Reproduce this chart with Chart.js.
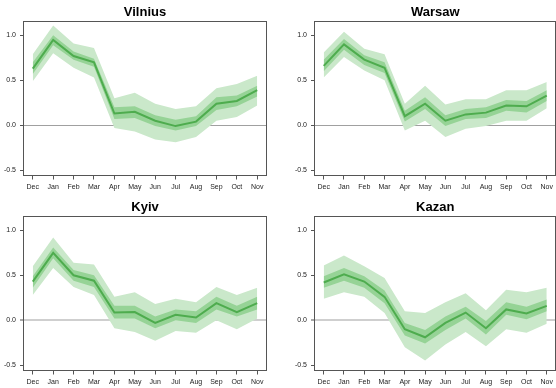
<!DOCTYPE html>
<html><head><meta charset="utf-8">
<script src="https://cdn.jsdelivr.net/npm/chart.js@4"></script>
<style>
html,body{margin:0;padding:0;background:#fff;width:556px;height:388px;overflow:hidden}
.p{position:absolute;width:278px;height:194px}
canvas{display:block}
</style></head><body>
<div class="p" style="left:0;top:0"><canvas id="c0" width="278" height="194"></canvas></div>
<div class="p" style="left:278px;top:0"><canvas id="c1" width="278" height="194"></canvas></div>
<div class="p" style="left:0;top:195px"><canvas id="c2" width="278" height="194"></canvas></div>
<div class="p" style="left:278px;top:195px"><canvas id="c3" width="278" height="194"></canvas></div>
<script>
const months = ['Dec','Jan','Feb','Mar','Apr','May','Jun','Jul','Aug','Sep','Oct','Nov'];
const yTicks = [-0.5, 0, 0.5, 1.0];

const vilniusMean    = [0.63,0.95,0.77,0.70,0.13,0.15,0.05,-0.01,0.04,0.24,0.27,0.39];
const vilniusInnerHi = [0.70,1.00,0.82,0.74,0.20,0.21,0.11,0.06,0.10,0.31,0.33,0.44];
const vilniusInnerLo = [0.57,0.89,0.73,0.65,0.07,0.08,-0.01,-0.06,-0.01,0.17,0.21,0.32];
const vilniusOuterHi = [0.79,1.11,0.91,0.86,0.30,0.36,0.24,0.18,0.21,0.41,0.46,0.55];
const vilniusOuterLo = [0.49,0.80,0.64,0.53,-0.03,-0.07,-0.16,-0.19,-0.13,0.05,0.09,0.22];

const warsawMean    = [0.66,0.90,0.73,0.64,0.10,0.24,0.05,0.12,0.14,0.22,0.21,0.33];
const warsawInnerHi = [0.73,0.96,0.78,0.70,0.16,0.31,0.11,0.18,0.20,0.28,0.27,0.39];
const warsawInnerLo = [0.60,0.84,0.67,0.58,0.04,0.18,-0.01,0.07,0.08,0.16,0.14,0.27];
const warsawOuterHi = [0.81,1.04,0.85,0.79,0.24,0.44,0.23,0.29,0.29,0.39,0.39,0.48];
const warsawOuterLo = [0.53,0.76,0.61,0.50,-0.06,0.05,-0.13,-0.04,-0.01,0.05,0.05,0.19];

const kyivMean    = [0.43,0.75,0.50,0.44,0.085,0.09,-0.03,0.06,0.03,0.19,0.09,0.19];
const kyivInnerHi = [0.49,0.81,0.56,0.50,0.16,0.16,0.04,0.12,0.10,0.26,0.16,0.26];
const kyivInnerLo = [0.36,0.69,0.44,0.37,0.02,0.02,-0.09,0.00,-0.03,0.12,0.04,0.12];
const kyivOuterHi = [0.60,0.92,0.64,0.62,0.26,0.31,0.18,0.24,0.20,0.37,0.28,0.36];
const kyivOuterLo = [0.28,0.58,0.37,0.28,-0.09,-0.13,-0.23,-0.12,-0.14,0.00,-0.10,0.02];

const kazanMean    = [0.42,0.51,0.43,0.26,-0.10,-0.19,-0.03,0.085,-0.09,0.12,0.075,0.16];
const kazanInnerHi = [0.49,0.58,0.49,0.33,-0.03,-0.11,0.04,0.15,-0.01,0.20,0.15,0.23];
const kazanInnerLo = [0.36,0.44,0.36,0.19,-0.17,-0.26,-0.11,0.02,-0.16,0.06,0.01,0.10];
const kazanOuterHi = [0.61,0.72,0.60,0.47,0.10,0.08,0.20,0.30,0.11,0.34,0.31,0.36];
const kazanOuterLo = [0.24,0.31,0.26,0.08,-0.30,-0.45,-0.27,-0.13,-0.29,-0.10,-0.14,-0.04];

const LINE = 'rgb(78,172,78)';
const INNER = 'rgb(150,211,150)';
const OUTER = 'rgb(202,232,202)';
const FONT = "'Liberation Sans', Arial, Helvetica, sans-serif";

const pts = arr => arr.map((v, i) => ({x: i, y: v}));

const boxPlugin = {
  id: 'box',
  afterDraw(chart) {
    const a = chart.chartArea, ctx = chart.ctx;
    ctx.save();
    ctx.strokeStyle = '#555';
    ctx.lineWidth = 1;
    const l = Math.round(a.left) - 0.5, t = Math.round(a.top) + 0.5;
    const r = Math.round(a.right) + 0.5, b = Math.round(a.bottom) - 0.5;
    ctx.strokeRect(l, t, r - l, b - t);
    ctx.restore();
  }
};

function makeChart(id, title, mean, iHi, iLo, oHi, oLo, leftW, rightPad, zeroColor, zeroW) {
  const H = 194;
  new Chart(document.getElementById(id), {
    type: 'line',
    data: {
      datasets: [
        {data: pts(mean), borderColor: LINE, borderWidth: 2, pointRadius: 0, fill: false, tension: 0},
        {data: pts(iHi), borderWidth: 0, borderColor: 'rgba(0,0,0,0)', pointRadius: 0, backgroundColor: INNER, fill: '+1'},
        {data: pts(iLo), borderWidth: 0, borderColor: 'rgba(0,0,0,0)', pointRadius: 0, fill: false},
        {data: pts(oHi), borderWidth: 0, borderColor: 'rgba(0,0,0,0)', pointRadius: 0, backgroundColor: OUTER, fill: '+1'},
        {data: pts(oLo), borderWidth: 0, borderColor: 'rgba(0,0,0,0)', pointRadius: 0, fill: false}
      ]
    },
    options: {
      responsive: false,
      animation: false,
      events: [],
      layout: {padding: {left: 0, right: rightPad, top: 0, bottom: 0}},
      plugins: {
        legend: {display: false},
        tooltip: {enabled: false},
        title: {
          display: true, text: title, fullSize: false,
          color: '#000',
          font: {family: FONT, size: 13, weight: 'bold', lineHeight: 1.2},
          padding: {top: 5, bottom: 0.4}
        }
      },
      scales: {
        x: {
          type: 'linear', min: -0.43, max: 11.43,
          afterBuildTicks: s => { s.ticks = months.map((m, i) => ({value: i})); },
          afterFit: s => { s.height = H - 175.5; },
          ticks: {
            callback: v => months[v],
            font: {family: FONT, size: 7},
            color: '#222', padding: 3, maxRotation: 0, autoSkip: false
          },
          grid: {drawOnChartArea: false, drawTicks: true, tickLength: 4, tickColor: '#555', tickWidth: 1},
          border: {display: false}
        },
        y: {
          type: 'linear', min: -0.56, max: 1.16,
          afterBuildTicks: s => { s.ticks = yTicks.map(v => ({value: v})); },
          afterFit: s => { s.width = leftW; },
          ticks: {
            callback: v => v.toFixed(1),
            font: {family: FONT, size: 7},
            color: '#222', padding: 4
          },
          grid: {
            drawOnChartArea: true, drawTicks: true, tickLength: 4, tickColor: '#555', tickWidth: 1,
            color: c => (c.tick && c.tick.value === 0) ? zeroColor : 'rgba(0,0,0,0)',
            lineWidth: c => (c.tick && c.tick.value === 0) ? zeroW : 1
          },
          border: {display: false}
        }
      }
    },
    plugins: [boxPlugin]
  });
}

makeChart('c0', 'Vilnius', vilniusMean, vilniusInnerHi, vilniusInnerLo, vilniusOuterHi, vilniusOuterLo, 24, 12, '#a0a0a0', 1);
makeChart('c1', 'Warsaw', warsawMean, warsawInnerHi, warsawInnerLo, warsawOuterHi, warsawOuterLo, 37, 0, '#a0a0a0', 1);
makeChart('c2', 'Kyiv', kyivMean, kyivInnerHi, kyivInnerLo, kyivOuterHi, kyivOuterLo, 24, 12, '#cfcfcf', 2);
makeChart('c3', 'Kazan', kazanMean, kazanInnerHi, kazanInnerLo, kazanOuterHi, kazanOuterLo, 37, 0, '#cfcfcf', 2);
</script>
</body></html>
